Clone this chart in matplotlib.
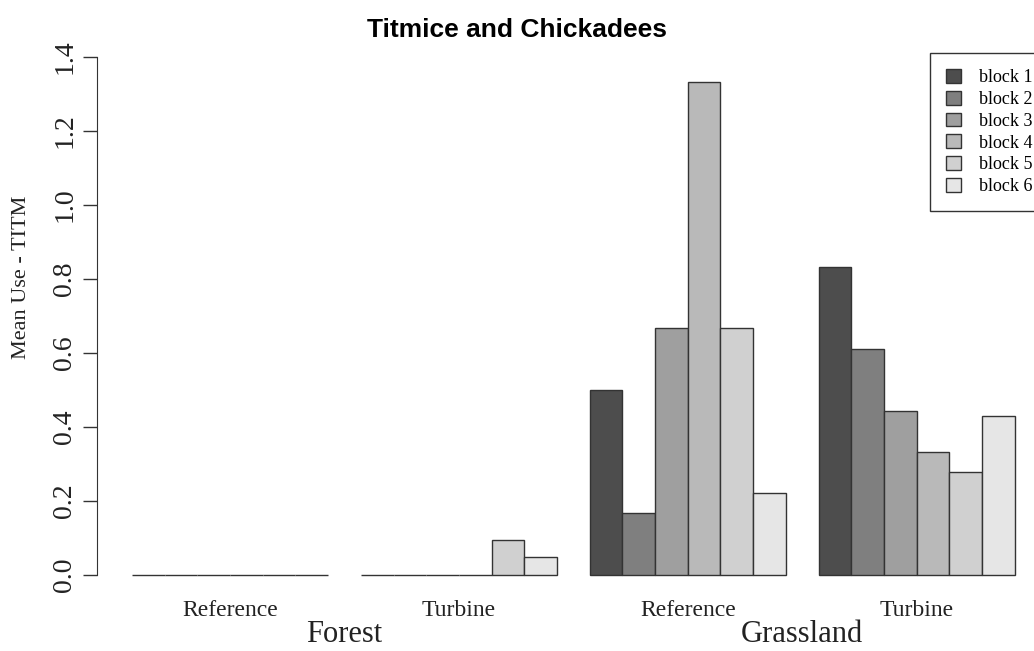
import matplotlib
matplotlib.use("Agg")
import matplotlib.pyplot as plt
from matplotlib.patches import Patch
import numpy as np

# Data
habitats = ["Forest", "Grassland"]
sites = ["Reference", "Turbine"]
blocks = ["block 1", "block 2", "block 3", "block 4", "block 5", "block 6"]
forest_reference = [0, 0, 0, 0, 0, 0]
forest_turbine = [0, 0, 0, 0, 0.0952, 0.0476]
grass_reference = [0.5, 0.1667, 0.6667, 1.3333, 0.6667, 0.2222]
grass_turbine = [0.8333, 0.6111, 0.4444, 0.3333, 0.2778, 0.4286]
groups = [forest_reference, forest_turbine, grass_reference, grass_turbine]
colors = ["#4D4D4D", "#7F7F7F", "#9F9F9F", "#B9B9B9", "#D0D0D0", "#E6E6E6"]

W, H = 1034, 651
fig = plt.figure(figsize=(W / 100, H / 100), dpi=100)
# plot region (R style), extends slightly beyond the right edge
ax = fig.add_axes([96.7 / W, 1 - 595.7 / H, (1050 - 96.7) / W, (595.7 - 36.3) / H])

serif = ["Liberation Serif", "DejaVu Serif"]

nb = len(blocks)
for g, vals in enumerate(groups):
    left = 1 + g * (nb + 1) + np.arange(nb)
    ax.bar(left, vals, width=1, align="edge", color=colors,
           edgecolor="#333333", linewidth=1)
    center = 1 + g * (nb + 1) + nb / 2
    ax.text(center, -0.095, sites[g % 2], ha="center", va="center",
            fontsize=17, family=serif, color="#222222")

for h, name in enumerate(habitats):
    center = 1 + (2 * h + 1) * (nb + 1) - 0.5
    ax.text(center, -0.162, name, ha="center", va="center",
            fontsize=22, family=serif, color="#222222")

ax.set_xlim(-0.08, 29.08)
ax.set_ylim(-0.056, 1.456)
ax.set_xticks([])
for s in ["top", "right", "bottom"]:
    ax.spines[s].set_visible(False)
ax.spines["left"].set_bounds(0, 1.4)
ax.spines["left"].set_color("#333333")
ax.set_yticks(np.arange(0, 1.41, 0.2))
ax.set_yticklabels(["%.1f" % v for v in np.arange(0, 1.41, 0.2)],
                   rotation=90, va="center", family=serif, fontsize=20,
                   color="#222222")
ax.tick_params(axis="y", length=10, width=1, color="#333333", pad=4)

fig.text(22 / W, 1 - 277 / H, "Mean Use - TITM", rotation=90, ha="center",
         va="center", fontsize=16, family=serif, color="#222222")
fig.text(517 / W, 1 - 30 / H, "Titmice and Chickadees", ha="center",
         va="center", fontsize=19, fontweight="bold",
         family=["Liberation Sans", "DejaVu Sans"])

handles = [Patch(facecolor=c, edgecolor="#333333", linewidth=1) for c in colors]
leg = fig.legend(handles, blocks, loc="upper left",
                 bbox_to_anchor=(930 / W, 1 - 53 / H), fancybox=False,
                 edgecolor="#333333", framealpha=1, borderaxespad=0,
                 prop={"family": serif, "size": 13}, handlelength=0.8,
                 handleheight=0.8, labelspacing=0.25, handletextpad=1.0,
                 borderpad=0.9)
leg.get_frame().set_linewidth(1)

fig.savefig("out.png", dpi=100)
